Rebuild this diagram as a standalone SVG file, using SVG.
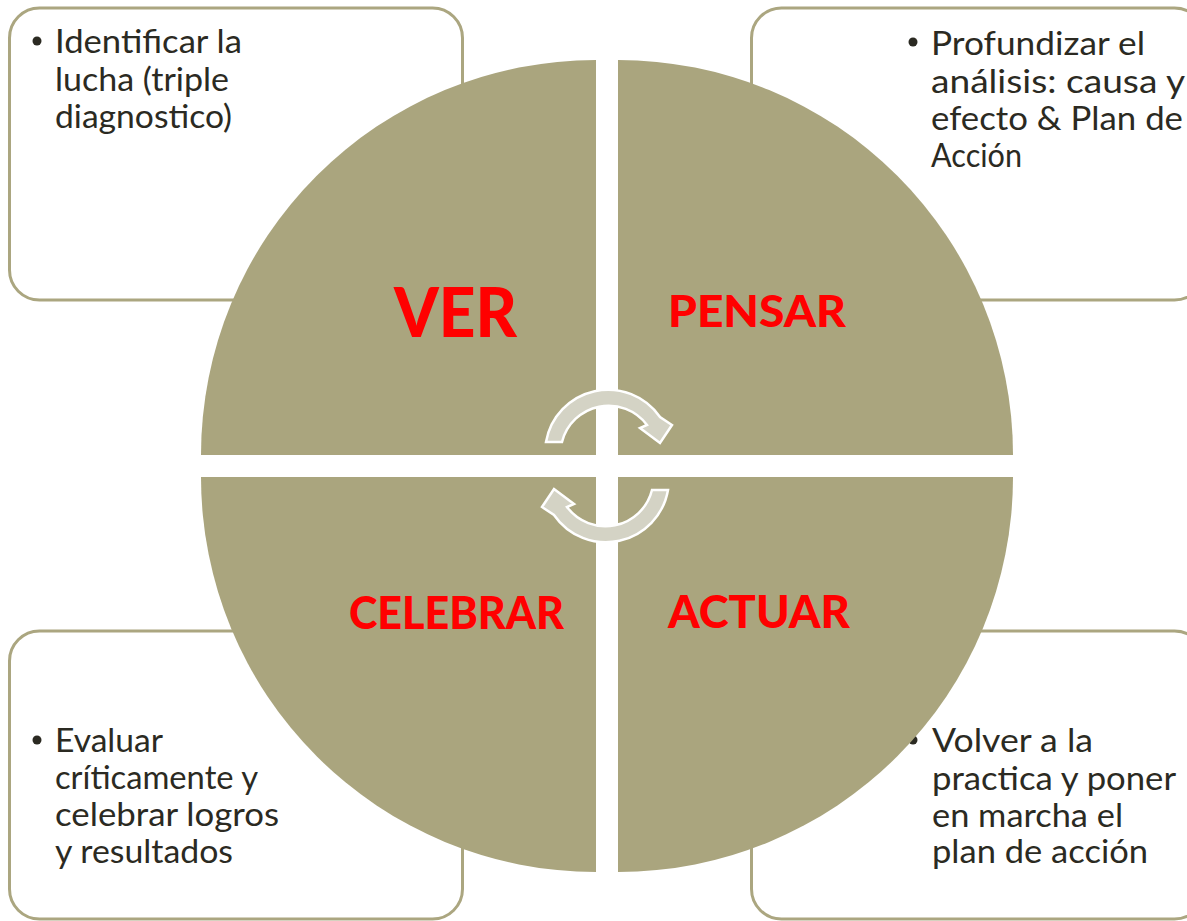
<svg xmlns="http://www.w3.org/2000/svg" width="1187" height="921" viewBox="0 0 1187 921">
  <defs>
    <style>
      .box { fill: #ffffff; stroke: #aba680; stroke-width: 3; }
      .body { font-family: Lato, "Open Sans", "Liberation Sans", sans-serif; font-size: 32px; fill: #2b2a22; }
      .bullet { fill: #2b2a22; }
      .quad { fill: #aaa57e; }
      .label { font-family: Lato, "Liberation Sans", sans-serif; font-weight: 900; fill: #ff0000; }
      .cyc { fill: #d4d3c5; stroke: #ffffff; stroke-width: 2.5; stroke-linejoin: miter; }
    </style>
  </defs>
  <rect width="1187" height="921" fill="#ffffff"/>

  <g id="box-ver">
    <rect class="box" x="9.5" y="8" width="453" height="292" rx="30" ry="30"/>
    <circle class="bullet" cx="37" cy="41" r="4.5"/>
    <text class="body" x="55" y="53" textLength="187" lengthAdjust="spacingAndGlyphs">Identificar la</text>
    <text class="body" x="55" y="90.5" textLength="174" lengthAdjust="spacingAndGlyphs">lucha (triple</text>
    <text class="body" x="55" y="128" textLength="177" lengthAdjust="spacingAndGlyphs">diagnostico)</text>
  </g>

  <g id="box-pensar">
    <rect class="box" x="751.5" y="8" width="453" height="292" rx="30" ry="30"/>
    <circle class="bullet" cx="913" cy="42" r="4.5"/>
    <text class="body" x="931" y="55" textLength="214" lengthAdjust="spacingAndGlyphs">Profundizar el</text>
    <text class="body" x="931" y="93" textLength="254" lengthAdjust="spacingAndGlyphs">análisis: causa y</text>
    <text class="body" x="931" y="130" textLength="252" lengthAdjust="spacingAndGlyphs">efecto &amp; Plan de</text>
    <text class="body" x="931" y="167" textLength="91" lengthAdjust="spacingAndGlyphs">Acción</text>
  </g>

  <g id="box-celebrar">
    <rect class="box" x="9.5" y="631" width="453" height="288" rx="30" ry="30"/>
    <circle class="bullet" cx="37" cy="740" r="4.5"/>
    <text class="body" x="55" y="752" textLength="108" lengthAdjust="spacingAndGlyphs">Evaluar</text>
    <text class="body" x="55" y="789" textLength="203" lengthAdjust="spacingAndGlyphs">críticamente y</text>
    <text class="body" x="55" y="826" textLength="224" lengthAdjust="spacingAndGlyphs">celebrar logros</text>
    <text class="body" x="55" y="863" textLength="178" lengthAdjust="spacingAndGlyphs">y resultados</text>
  </g>

  <g id="box-actuar">
    <rect class="box" x="751.5" y="631" width="453" height="288" rx="30" ry="30"/>
    <circle class="bullet" cx="913" cy="740" r="4.5"/>
    <text class="body" x="932" y="752" textLength="161" lengthAdjust="spacingAndGlyphs">Volver a la</text>
    <text class="body" x="932" y="790" textLength="244" lengthAdjust="spacingAndGlyphs">practica y poner</text>
    <text class="body" x="932" y="827" textLength="191" lengthAdjust="spacingAndGlyphs">en marcha el</text>
    <text class="body" x="932" y="863" textLength="216" lengthAdjust="spacingAndGlyphs">plan de acción</text>
  </g>

  <g id="node-ver">
    <path class="quad" d="M596,455 L201,455 A395,395 0 0 1 596,60 Z"/>
    <text class="label" x="394" y="337" font-size="68" textLength="123" lengthAdjust="spacingAndGlyphs">VER</text>
  </g>
  <g id="node-pensar">
    <path class="quad" d="M618,455 L618,60 A395,395 0 0 1 1013,455 Z"/>
    <text class="label" x="668" y="327" font-size="43" textLength="178" lengthAdjust="spacingAndGlyphs">PENSAR</text>
  </g>
  <g id="node-actuar">
    <path class="quad" d="M618,477 L1013,477 A395,395 0 0 1 618,872 Z"/>
    <text class="label" x="668" y="628" font-size="45" textLength="182" lengthAdjust="spacingAndGlyphs">ACTUAR</text>
  </g>
  <g id="node-celebrar">
    <path class="quad" d="M596,477 L596,872 A395,395 0 0 1 201,477 Z"/>
    <text class="label" x="349" y="629" font-size="45" textLength="215" lengthAdjust="spacingAndGlyphs">CELEBRAR</text>
  </g>

  <g id="connectors">
    <path id="cycle-top" class="cyc" d="M546,442 A63,63 0 0 1 660,417 L672,425 L660,443 L640,428 L647,425 A48,48 0 0 0 562,442 Z"/>
    <path id="cycle-bottom" class="cyc" transform="rotate(180 607 466)" d="M546,442 A63,63 0 0 1 660,417 L672,425 L660,443 L640,428 L647,425 A48,48 0 0 0 562,442 Z"/>
  </g>
</svg>
